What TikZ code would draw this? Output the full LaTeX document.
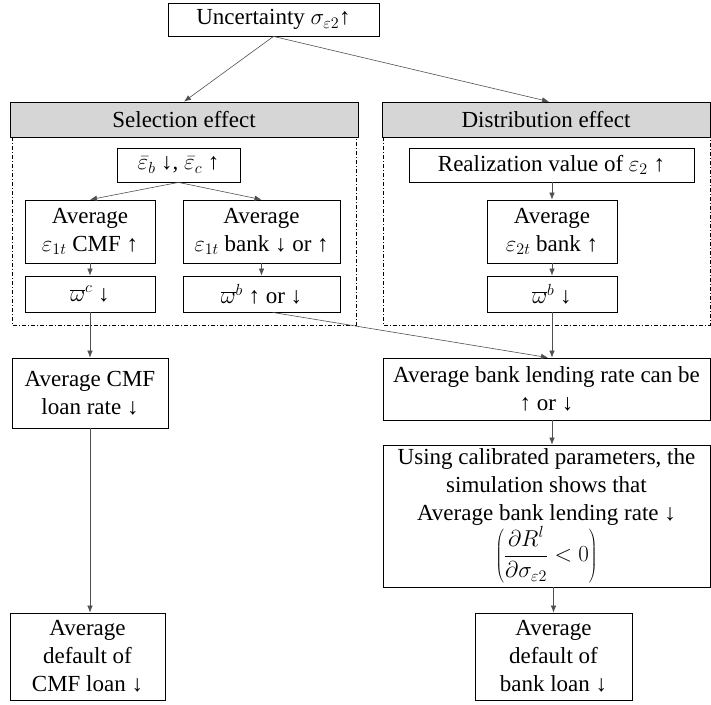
\RequirePackage{fix-cm}
\documentclass[tikz,border=0pt]{standalone}
\usepackage{fontspec}
\setmainfont{Liberation Serif}
\usetikzlibrary{arrows.meta,calc}
\definecolor{headgray}{RGB}{214,214,214}
\definecolor{linkgray}{RGB}{80,80,80}

\begin{document}
\begin{tikzpicture}[x=1pt,y=-1pt,
  box/.style={draw=black, line width=0.8pt, inner sep=0pt, align=center,
              font=\fontsize{23}{28}\selectfont},
  head/.style={box, fill=headgray},
  frame/.style={draw=black, line width=0.7pt,
                dash pattern=on 4pt off 2pt on 1pt off 2pt},
  link/.style={draw=linkgray, line width=0.6pt, -{Latex[length=7pt,width=5.5pt]}},
]
\useasboundingbox (0,0) rectangle (711,704);

% dash-dotted frames of the two effects
\draw[frame] (12,137) rectangle (356,325);
\draw[frame] (383,137) rectangle (710,325);

% top
\node[box, minimum width=211pt, minimum height=33pt] (top) at (273.5,19.5)
  {Uncertainty $\sigma_{\varepsilon 2}$↑};

% headers
\node[head, minimum width=348pt, minimum height=35pt] (hsel) at (184,119.5) {Selection effect};
\node[head, minimum width=328pt, minimum height=35pt] (hdist) at (546,119.5) {Distribution effect};

% selection effect
\node[box, minimum width=123pt, minimum height=34pt] (epsb) at (178.5,165)
  {$\bar{\varepsilon}_b$ ↓, $\bar{\varepsilon}_c$ ↑};
\node[box, minimum width=130pt, minimum height=63pt] (avgcmf) at (90,231.5)
  {Average\\ $\varepsilon_{1t}$ CMF ↑};
\node[box, minimum width=157pt, minimum height=63pt] (avgbank) at (261.5,231.5)
  {Average\\ $\varepsilon_{1t}$ bank ↓ or ↑};
\node[box, minimum width=130pt, minimum height=36pt] (omc) at (90,294)
  {$\overline{\omega}^c$ ↓};
\node[box, minimum width=157pt, minimum height=36pt] (omb) at (261.5,294)
  {$\overline{\omega}^b$ ↑ or ↓};

% distribution effect
\node[box, minimum width=285pt, minimum height=34pt] (real) at (551.5,165)
  {Realization value of $\varepsilon_2$ ↑};
\node[box, minimum width=130pt, minimum height=63pt] (avg2) at (552,231.5)
  {Average\\ $\varepsilon_{2t}$ bank ↑};
\node[box, minimum width=130pt, minimum height=36pt] (omb2) at (552,294)
  {$\overline{\omega}^b$ ↓};

% outcomes
\node[box, minimum width=156pt, minimum height=70pt] (cmfrate) at (90,393)
  {Average CMF\\ loan rate ↓};
\node[box, minimum width=327pt, minimum height=62pt] (bankrate) at (546.5,389)
  {Average bank lending rate can be\\ ↑ or ↓};
\node[box, minimum width=327pt, minimum height=142pt] (calib) at (546.5,516)
  {Using calibrated parameters, the\\ simulation shows that\\ Average bank lending rate ↓\\
   $\displaystyle\left(\frac{\partial R^l}{\partial \sigma_{\varepsilon 2}} < 0\right)$};
\node[box, minimum width=155pt, minimum height=87pt] (defcmf) at (87.5,656.5)
  {Average\\ default of\\ CMF loan ↓};
\node[box, minimum width=157pt, minimum height=87pt] (defbank) at (553.5,656.5)
  {Average\\ default of\\ bank loan ↓};

% connectors
\draw[link] (top.south) -- (hsel.north);
\draw[link] (top.south) -- ($(hdist.north)+(3,0)$);
\draw[link] (epsb.south) -- (avgcmf.north);
\draw[link] (epsb.south) -- (avgbank.north);
\draw[link] (avgcmf.south) -- (omc.north);
\draw[link] (avgbank.south) -- (omb.north);
\draw[link] (real.south -| avg2.north) -- (avg2.north);
\draw[link] (avg2.south) -- (omb2.north);
\draw[link] (omc.south) -- (cmfrate.north);
\draw[link] (omb2.south) -- (omb2.south |- bankrate.north);
\coordinate (ombout) at ($(omb.south west)!0.57!(omb.south east)$);
\draw[link] (ombout) -- ($(omb2.south |- bankrate.north)+(-4,0)$);
\draw[link] (bankrate.south -| avg2.south) -- (calib.north -| avg2.south);
\draw[link] (calib.south -| defbank.north) -- (defbank.north);
\draw[link] (cmfrate.south) -- (cmfrate.south |- defcmf.north);
\end{tikzpicture}
\end{document}
